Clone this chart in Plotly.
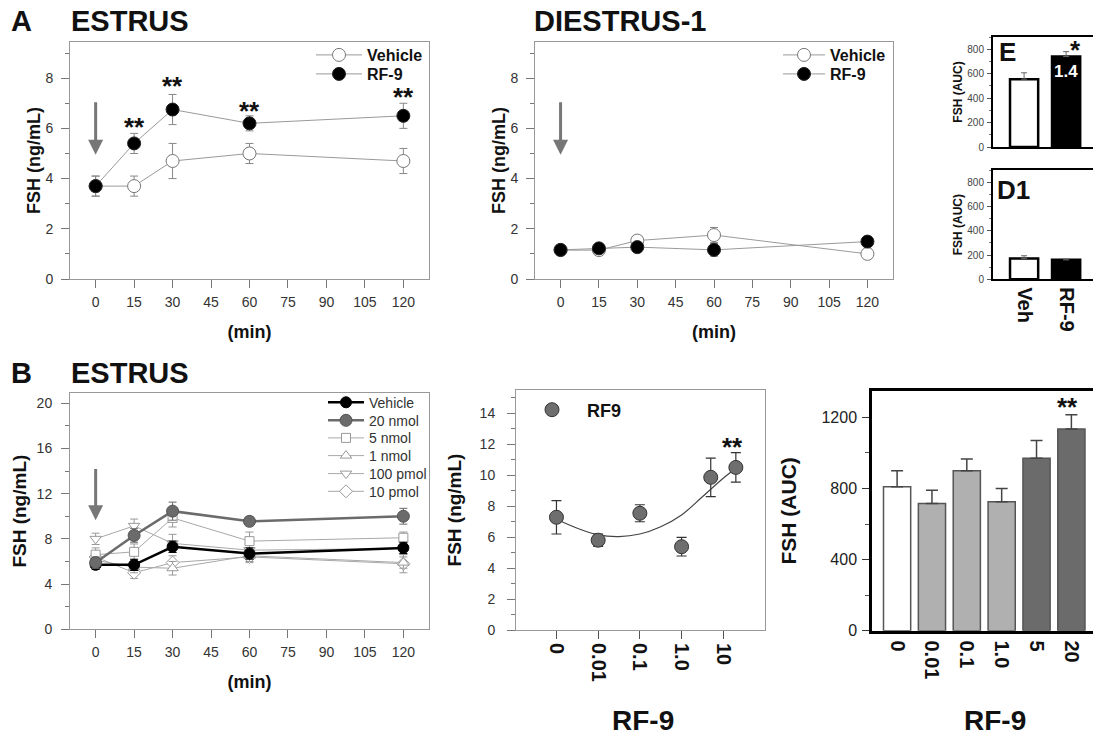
import plotly.graph_objects as go

W, H = 1093, 737
FONT = "Liberation Sans"

# ---------------- data ----------------
time_min = [0, 15, 30, 60, 120]

# A: estrus
estrus_vehicle = [3.7, 3.7, 4.7, 5.0, 4.7]
estrus_vehicle_err = [0.4, 0.4, 0.7, 0.4, 0.5]
estrus_rf9 = [3.7, 5.4, 6.75, 6.2, 6.5]
estrus_rf9_err = [0.4, 0.4, 0.6, 0.3, 0.5]
estrus_star_y = [6.18, 7.81, 6.81, 7.37]
estrus_star_x = [15, 30, 60, 120]

# A: diestrus-1
di_vehicle = [1.15, 1.15, 1.53, 1.75, 1.0]
di_vehicle_err = [0.1, 0.2, 0.1, 0.3, 0.15]
di_rf9 = [1.16, 1.22, 1.27, 1.16, 1.49]
di_rf9_err = [0.1, 0.15, 0.1, 0.25, 0.1]

# insets: AUC
auc_groups = ["Veh", "RF-9"]
auc_estrus = [555, 740]
auc_estrus_err = [52, 40]
auc_d1 = [172, 160]
auc_d1_err = [22, 8]

# B: estrus dose time-course
b_series = ["Vehicle", "20 nmol", "5 nmol", "1 nmol", "100 pmol", "10 pmol"]
b_values = {
    "Vehicle":  [5.7, 5.7, 7.3, 6.7, 7.2],
    "20 nmol":  [5.9, 8.3, 10.45, 9.55, 10.0],
    "5 nmol":   [6.6, 6.85, 9.85, 7.8, 8.1],
    "1 nmol":   [6.1, 5.5, 5.4, 6.5, 5.9],
    "100 pmol": [8.0, 9.15, 7.6, 7.0, 7.15],
    "10 pmol":  [6.4, 5.0, 5.9, 6.4, 5.8],
}
b_errors = {
    "Vehicle":  [0.4, 0.5, 0.5, 0.5, 0.5],
    "20 nmol":  [0.5, 0.6, 0.8, 0.4, 0.7],
    "5 nmol":   [0.6, 0.7, 0.8, 0.8, 0.5],
    "1 nmol":   [0.5, 0.5, 0.6, 0.5, 0.5],
    "100 pmol": [0.5, 0.6, 0.8, 0.5, 0.5],
    "10 pmol":  [0.4, 0.5, 0.6, 0.5, 0.8],
}

# B: dose response (dose 0 is shown at 0.001 on the log axis)
dose_nmol = [0.001, 0.01, 0.1, 1, 5, 20]
dose_fsh = [7.28, 5.8, 7.54, 5.38, 9.86, 10.5]
dose_fsh_err = [1.08, 0.4, 0.55, 0.6, 1.24, 0.95]
dose_ticks = [0.001, 0.01, 0.1, 1, 10]
dose_ticktext = ["0", "0.01", "0.1", "1.0", "10"]
curve_dose = [0.001, 0.00316, 0.01, 0.0316, 0.1, 0.316, 1, 3.16, 8.9, 18.6]
curve_fsh = [7.15, 6.57, 6.14, 6.03, 6.20, 6.67, 7.43, 8.61, 9.69, 10.38]

# B: AUC bars
auc_dose_labels = ["0", "0.01", "0.1", "1.0", "5", "20"]
auc_dose = [810, 715, 900, 725, 970, 1135]
auc_dose_err = [90, 75, 65, 75, 100, 80]
auc_dose_colors = ["#ffffff", "#b0b0b0", "#b0b0b0", "#b0b0b0", "#6b6b6b", "#6b6b6b"]

# ---------------- helpers ----------------
def xd(a, b):
    return [a / W, min(b / W, 1.0)]

def yd(top, bottom):
    return [1 - bottom / H, 1 - top / H]

def px_x(x):
    return x / W

def px_y(y):
    return 1 - y / H

fig = go.Figure()

grey_line = "#9a9a9a"
legend_layout = {}
legend_count = [0]

def new_legend(x, y, size, bold, color="#111", itemwidth=30):
    legend_count[0] += 1
    key = "legend" if legend_count[0] == 1 else "legend%d" % legend_count[0]
    legend_layout[key] = dict(x=px_x(x), y=px_y(y), xanchor="left", yanchor="middle",
                              bgcolor="rgba(0,0,0,0)", itemwidth=itemwidth,
                              font=dict(family=FONT, size=size, color=color,
                                        weight="bold" if bold else "normal"))
    return key

# ---- A estrus ----
fig.add_trace(go.Scatter(x=time_min, y=estrus_vehicle, mode="lines+markers", name="Vehicle",
    line=dict(color=grey_line, width=1),
    marker=dict(symbol="circle", size=13, color="white", line=dict(color="#777", width=1)),
    error_y=dict(type="data", array=estrus_vehicle_err, color="#888", thickness=1, width=4),
    xaxis="x", yaxis="y", legend=new_legend(311, 55, 16, True, itemwidth=46)))
fig.add_trace(go.Scatter(x=time_min, y=estrus_rf9, mode="lines+markers", name="RF-9",
    line=dict(color=grey_line, width=1),
    marker=dict(symbol="circle", size=13, color="black", line=dict(color="#222", width=1)),
    error_y=dict(type="data", array=estrus_rf9_err, color="#888", thickness=1, width=4),
    xaxis="x", yaxis="y", legend=new_legend(311, 74, 16, True, itemwidth=46)))

# ---- A diestrus ----
fig.add_trace(go.Scatter(x=time_min, y=di_vehicle, mode="lines+markers", name="Vehicle",
    line=dict(color=grey_line, width=1),
    marker=dict(symbol="circle", size=13, color="white", line=dict(color="#777", width=1)),
    error_y=dict(type="data", array=di_vehicle_err, color="#888", thickness=1, width=4),
    xaxis="x2", yaxis="y2", legend=new_legend(778, 55, 16, True, itemwidth=42)))
fig.add_trace(go.Scatter(x=time_min, y=di_rf9, mode="lines+markers", name="RF-9",
    line=dict(color=grey_line, width=1),
    marker=dict(symbol="circle", size=13, color="black", line=dict(color="#222", width=1)),
    error_y=dict(type="data", array=di_rf9_err, color="#888", thickness=1, width=4),
    xaxis="x2", yaxis="y2", legend=new_legend(778, 74, 16, True, itemwidth=42)))

# ---- insets ----
fig.add_trace(go.Bar(x=auc_groups, y=auc_estrus, width=0.67,
    marker=dict(color=["white", "black"], line=dict(color="black", width=2.5)),
    error_y=dict(type="data", array=auc_estrus_err, arrayminus=[0, 0], symmetric=False,
                 color="#666", thickness=1, width=3),
    xaxis="x3", yaxis="y3", showlegend=False))
fig.add_trace(go.Bar(x=auc_groups, y=auc_d1, width=0.67,
    marker=dict(color=["white", "black"], line=dict(color="black", width=2.5)),
    error_y=dict(type="data", array=auc_d1_err, arrayminus=[0, 0], symmetric=False,
                 color="#666", thickness=1, width=3),
    xaxis="x4", yaxis="y4", showlegend=False))

# ---- B estrus ----
b_style = {
    "Vehicle":  dict(lc="black", lw=2.5, sym="circle", ms=11, mc="black", ml="black"),
    "20 nmol":  dict(lc="#6b6b6b", lw=2.5, sym="circle", ms=12, mc="#6b6b6b", ml="#555"),
    "5 nmol":   dict(lc="#a8a8a8", lw=1, sym="square", ms=9, mc="white", ml="#999"),
    "1 nmol":   dict(lc="#a8a8a8", lw=1, sym="triangle-up", ms=10, mc="white", ml="#999"),
    "100 pmol": dict(lc="#a8a8a8", lw=1, sym="triangle-down", ms=10, mc="white", ml="#999"),
    "10 pmol":  dict(lc="#a8a8a8", lw=1, sym="diamond", ms=10, mc="white", ml="#999"),
}
b_legend_y = [402.7, 420.7, 438.3, 456, 474, 491.7]
b_legend_keys = {name: new_legend(323, b_legend_y[i], 14, False, color="#333", itemwidth=36)
                 for i, name in enumerate(b_series)}
draw_order = ["10 pmol", "100 pmol", "1 nmol", "5 nmol", "Vehicle", "20 nmol"]
for name in draw_order:
    s = b_style[name]
    fig.add_trace(go.Scatter(x=time_min, y=b_values[name], mode="lines+markers", name=name,
        line=dict(color=s["lc"], width=s["lw"]),
        marker=dict(symbol=s["sym"], size=s["ms"], color=s["mc"], line=dict(color=s["ml"], width=1)),
        error_y=dict(type="data", array=b_errors[name], color="#999" if s["lw"] < 2 else s["lc"],
                     thickness=1, width=4),
        xaxis="x5", yaxis="y5", legend=b_legend_keys[name]))

# ---- B dose response ----
fig.add_trace(go.Scatter(x=curve_dose, y=curve_fsh, mode="lines", line=dict(color="#444", width=1.2, shape="spline"),
    xaxis="x6", yaxis="y6", showlegend=False))
fig.add_trace(go.Scatter(x=dose_nmol, y=dose_fsh, mode="markers", name="RF9",
    marker=dict(symbol="circle", size=14, color="#6e6e6e", line=dict(color="#333", width=1)),
    error_y=dict(type="data", array=dose_fsh_err, color="#333", thickness=1.2, width=5),
    xaxis="x6", yaxis="y6", legend=new_legend(517, 410, 18, True, itemwidth=60)))

# ---- B AUC bars ----
fig.add_trace(go.Bar(x=auc_dose_labels, y=auc_dose, width=0.78,
    marker=dict(color=auc_dose_colors, line=dict(color="#555", width=1.5)),
    error_y=dict(type="data", array=auc_dose_err, arrayminus=[0] * 6, symmetric=False,
                 color="#444", thickness=1.5, width=6),
    xaxis="x7", yaxis="y7", showlegend=False))

# ---------------- axes ----------------
def time_x(domain, anchor):
    return dict(domain=domain, anchor=anchor, automargin=False, range=[-10, 130],
                tickvals=[0, 15, 30, 45, 60, 75, 90, 105, 120],
                ticks="outside", ticklen=8, tickcolor="#777", showgrid=False, zeroline=False,
                showline=True, linecolor="#999", linewidth=1, mirror=True,
                tickfont=dict(family=FONT, size=14, color="#333"), ticklabelstandoff=2,
                title=dict(text="(min)", font=dict(family=FONT, size=18, color="#111", weight="bold"), standoff=16))

def lin_y(domain, anchor, rng, dtick, minor, title, tfs=14, titlesize=18, tstand=0, lso=5):
    return dict(domain=domain, anchor=anchor, automargin=False, range=rng, dtick=dtick, tick0=0,
                ticks="outside", ticklen=8,
                tickcolor="#777", showgrid=False, zeroline=False, showline=True, linecolor="#999", linewidth=1,
                mirror=True, tickfont=dict(family=FONT, size=tfs, color="#333"), ticklabelstandoff=lso,
                minor=dict(dtick=minor, ticks="outside", ticklen=4, tickcolor="#777", showgrid=False),
                title=dict(text=title, font=dict(family=FONT, size=titlesize, color="#111", weight="bold"),
                           standoff=tstand))

def inset_y(domain, anchor):
    return dict(domain=domain, anchor=anchor, automargin=False, range=[0, 900], tickvals=[0, 200, 400, 600, 800],
                ticks="outside", ticklen=4, tickcolor="#555", showgrid=False, zeroline=False, showline=True,
                linecolor="black", linewidth=2, mirror=True, tickfont=dict(family=FONT, size=10, color="#444"),
                ticklabelstandoff=1,
                minor=dict(dtick=100, ticks="outside", ticklen=2, tickcolor="#777"),
                title=dict(text="FSH (AUC)", font=dict(family=FONT, size=12, color="#111", weight="bold"), standoff=2))

layout = dict(
    width=W, height=H, margin=dict(l=0, r=0, t=0, b=0, autoexpand=False),
    paper_bgcolor="white", plot_bgcolor="white", showlegend=True,
    font=dict(family=FONT, color="#111"),
    xaxis=time_x(xd(70, 429), "y"),
    yaxis=lin_y(yd(42, 279), "x", [0, 9.44], 2, 1, "FSH (ng/mL)"),
    xaxis2=time_x(xd(535, 893), "y2"),
    yaxis2=lin_y(yd(42, 279), "x2", [0, 9.44], 2, 1, "FSH (ng/mL)"),
    xaxis3=dict(domain=xd(993, 1093), anchor="y3", automargin=False, range=[-0.74, 1.64],
                showticklabels=False, ticks="",
                showline=True, linecolor="black", linewidth=2, mirror=True, showgrid=False),
    yaxis3=inset_y(yd(37, 147), "x3"),
    xaxis4=dict(domain=xd(993, 1093), anchor="y4", automargin=False, range=[-0.74, 1.64], ticks="", tickangle=90,
                tickfont=dict(family=FONT, size=20, color="#111", weight="bold"), ticklabelstandoff=2,
                showline=True, linecolor="black", linewidth=2, mirror=True, showgrid=False),
    yaxis4=inset_y(yd(170, 279.3), "x4"),
    xaxis5=time_x(xd(70, 429), "y5"),
    yaxis5=lin_y(yd(393, 629.3), "x5", [0, 20.9], 4, 2, "FSH (ng/mL)", titlesize=19, tstand=4, lso=6),
    xaxis6=dict(domain=xd(516, 765), anchor="y6", automargin=False, type="log", range=[-3.97, 2.0],
                tickvals=dose_ticks,
                ticktext=dose_ticktext, tickangle=90, ticks="outside", ticklen=8, tickcolor="#555",
                showgrid=False, zeroline=False, showline=True, linecolor="#999", linewidth=1, mirror=True,
                tickfont=dict(family=FONT, size=20, color="#111", weight="bold"), ticklabelstandoff=0),
    yaxis6=lin_y(yd(390, 630), "x6", [0, 15.5], 2, 1, "FSH (ng/mL)", titlesize=19, tfs=14, tstand=12, lso=9),
    xaxis7=dict(domain=xd(872, 1093), anchor="y7", automargin=False, range=[-0.72, 5.62], tickangle=90,
                ticks="", showgrid=False,
                showline=True, linecolor="black", linewidth=2.5, mirror=True,
                tickfont=dict(family=FONT, size=20, color="#111", weight="bold"), ticklabelstandoff=3),
    yaxis7=dict(domain=yd(391, 630.7), anchor="x7", automargin=False, range=[0, 1348],
                tickvals=[0, 400, 800, 1200], ticks="outside",
                ticklen=7, tickcolor="#333", showgrid=False, zeroline=False, showline=True, linecolor="black",
                linewidth=2.5, mirror=True, tickfont=dict(family=FONT, size=16, color="#222"), ticklabelstandoff=2,
                minor=dict(dtick=200, ticks="outside", ticklen=4, tickcolor="#555"),
                title=dict(text="FSH (AUC)", font=dict(family=FONT, size=21, color="#111", weight="bold"), standoff=20)),
)
layout.update(legend_layout)
fig.update_layout(**layout)

# ---------------- annotations ----------------
def txt(x, y, text, size, xanchor="left", color="#111", bold=True):
    fig.add_annotation(x=px_x(x), y=px_y(y), xref="paper", yref="paper", text=text, showarrow=False,
                       xanchor=xanchor, yanchor="middle",
                       font=dict(family=FONT, size=size, color=color, weight="bold" if bold else "normal"))

txt(9, 21, "A", 29)
txt(69, 21, "ESTRUS", 29)
txt(532, 21, "DIESTRUS-1", 29)
txt(9, 373, "B", 29)
txt(69, 373, "ESTRUS", 29)
txt(997, 52, "E", 26)
txt(995, 190, "D1", 26)
txt(643, 720, "RF-9", 28, xanchor="center")
txt(995, 720, "RF-9", 28, xanchor="center")

star_font = dict(family=FONT, size=26, color="#111", weight="bold")
for sx, sy in zip(estrus_star_x, estrus_star_y):
    fig.add_annotation(x=sx, y=sy, xref="x", yref="y", text="**", showarrow=False, yshift=-3, font=star_font)
fig.add_annotation(x=4.23 - 3, y=11.95, xref="x6", yref="y6", text="**", showarrow=False, yshift=-2, font=star_font)
fig.add_annotation(x=4.9, y=1269, xref="x7", yref="y7", text="**", showarrow=False, yshift=-2, font=star_font)
fig.add_annotation(x=1.22, y=785, xref="x3", yref="y3", text="*", showarrow=False, yshift=1, font=star_font)
fig.add_annotation(x=1.0, y=615, xref="x3", yref="y3", text="1.4", showarrow=False,
                   font=dict(family=FONT, size=17, color="white", weight="bold"))

# arrows
for xr, yr, y0, y1 in [("x", "y", 7.1, 4.95), ("x2", "y2", 7.1, 4.95), ("x5", "y5", 14.3, 9.65)]:
    fig.add_annotation(x=0, y=y1, ax=0, ay=y0, xref=xr, yref=yr, axref=xr, ayref=yr, text="",
                       showarrow=True, arrowhead=2, arrowsize=1, arrowwidth=3, arrowcolor="#777")

fig.write_html("out.html", config={"displayModeBar": False},
               post_script="document.body.style.margin='0px';document.body.style.overflow='hidden';")
